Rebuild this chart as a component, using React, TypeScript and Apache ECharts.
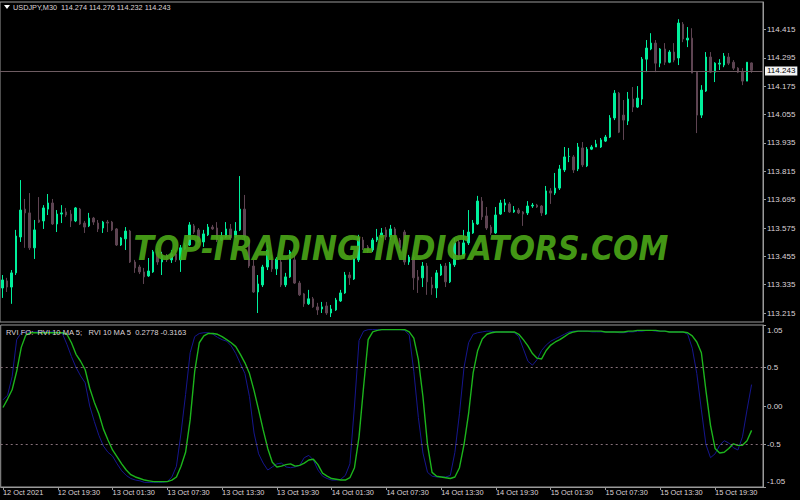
import React, { useEffect, useRef } from 'react';
import * as echarts from 'echarts';

const symbolName = 'USDJPY,M30';

const opens = [
  113.321, 113.351, 113.325, 113.385, 113.537, 113.655, 113.639, 113.491, 113.609, 113.605,
  113.655, 113.681, 113.592, 113.634, 113.643, 113.634, 113.605, 113.655, 113.596, 113.584,
  113.617, 113.596, 113.575, 113.600, 113.600, 113.571, 113.503, 113.529, 113.562, 113.431,
  113.410, 113.389, 113.372, 113.389, 113.474, 113.431, 113.457, 113.440, 113.465, 113.440,
  113.486, 113.503, 113.584, 113.567, 113.516, 113.546, 113.579, 113.575, 113.524, 113.537,
  113.571, 113.537, 113.567, 113.655, 113.524, 113.414, 113.304, 113.334, 113.410, 113.440,
  113.402, 113.431, 113.334, 113.368, 113.440, 113.342, 113.296, 113.254, 113.275, 113.241,
  113.232, 113.245, 113.215, 113.228, 113.266, 113.300, 113.376, 113.359, 113.440, 113.524,
  113.495, 113.482, 113.524, 113.537, 113.567, 113.537, 113.571, 113.524, 113.558, 113.431,
  113.452, 113.368, 113.364, 113.414, 113.334, 113.321, 113.376, 113.414, 113.347, 113.419,
  113.516, 113.457, 113.512, 113.554, 113.592, 113.689, 113.626, 113.579, 113.554, 113.634,
  113.672, 113.677, 113.643, 113.651, 113.643, 113.639, 113.668, 113.672, 113.668, 113.634,
  113.732, 113.723, 113.744, 113.821, 113.878, 113.876, 113.825, 113.914, 113.838, 113.909,
  113.918, 113.918, 113.943, 113.960, 114.041, 114.146, 114.053, 114.028, 114.121, 114.087,
  114.121, 114.290, 114.333, 114.358, 114.273, 114.333, 114.277, 114.320, 114.295, 114.438,
  114.371, 114.379, 114.235, 114.053, 114.155, 114.299, 114.235, 114.269, 114.265, 114.299,
  114.277, 114.252, 114.235, 114.197, 114.274,
];

const closes = [
  113.355, 113.325, 113.385, 113.541, 113.651, 113.639, 113.491, 113.567, 113.600, 113.660,
  113.681, 113.592, 113.634, 113.639, 113.630, 113.605, 113.660, 113.592, 113.579, 113.617,
  113.600, 113.571, 113.600, 113.596, 113.567, 113.503, 113.533, 113.562, 113.431, 113.406,
  113.389, 113.368, 113.393, 113.474, 113.431, 113.457, 113.440, 113.465, 113.440, 113.491,
  113.503, 113.588, 113.558, 113.516, 113.550, 113.579, 113.571, 113.524, 113.537, 113.571,
  113.533, 113.562, 113.655, 113.537, 113.414, 113.304, 113.338, 113.410, 113.482, 113.402,
  113.444, 113.334, 113.368, 113.474, 113.342, 113.292, 113.254, 113.275, 113.241, 113.228,
  113.241, 113.215, 113.232, 113.270, 113.300, 113.376, 113.364, 113.444, 113.533, 113.491,
  113.478, 113.524, 113.537, 113.554, 113.537, 113.571, 113.524, 113.491, 113.431, 113.452,
  113.364, 113.355, 113.414, 113.347, 113.321, 113.385, 113.414, 113.347, 113.423, 113.512,
  113.452, 113.512, 113.558, 113.596, 113.689, 113.622, 113.575, 113.554, 113.630, 113.681,
  113.681, 113.643, 113.651, 113.639, 113.634, 113.668, 113.672, 113.664, 113.639, 113.732,
  113.723, 113.744, 113.825, 113.876, 113.878, 113.821, 113.918, 113.842, 113.909, 113.918,
  113.931, 113.948, 113.960, 114.041, 114.146, 113.981, 114.032, 114.121, 114.087, 114.125,
  114.290, 114.337, 114.358, 114.273, 114.333, 114.277, 114.320, 114.286, 114.443, 114.375,
  114.379, 114.231, 114.053, 114.159, 114.299, 114.235, 114.273, 114.273, 114.303, 114.273,
  114.252, 114.235, 114.197, 114.277, 114.243,
];

const lows = [
  113.279, 113.304, 113.254, 113.376, 113.516, 113.491, 113.482, 113.444, 113.596, 113.571,
  113.630, 113.588, 113.558, 113.596, 113.622, 113.579, 113.600, 113.588, 113.554, 113.579,
  113.588, 113.558, 113.554, 113.558, 113.562, 113.499, 113.499, 113.482, 113.427, 113.385,
  113.380, 113.338, 113.368, 113.385, 113.419, 113.376, 113.431, 113.427, 113.431, 113.389,
  113.482, 113.499, 113.550, 113.512, 113.495, 113.541, 113.567, 113.516, 113.520, 113.533,
  113.524, 113.533, 113.562, 113.524, 113.406, 113.300, 113.215, 113.325, 113.397, 113.389,
  113.376, 113.325, 113.325, 113.364, 113.338, 113.287, 113.241, 113.249, 113.237, 113.207,
  113.215, 113.207, 113.198, 113.224, 113.262, 113.296, 113.334, 113.355, 113.431, 113.482,
  113.469, 113.474, 113.516, 113.533, 113.524, 113.524, 113.516, 113.469, 113.419, 113.419,
  113.313, 113.300, 113.325, 113.292, 113.292, 113.279, 113.372, 113.325, 113.342, 113.410,
  113.440, 113.448, 113.503, 113.550, 113.588, 113.609, 113.567, 113.546, 113.550, 113.630,
  113.643, 113.639, 113.639, 113.634, 113.584, 113.630, 113.660, 113.660, 113.626, 113.630,
  113.677, 113.715, 113.736, 113.812, 113.854, 113.808, 113.816, 113.833, 113.833, 113.905,
  113.918, 113.914, 113.939, 113.956, 114.032, 113.977, 113.948, 114.011, 114.066, 114.083,
  114.096, 114.235, 114.328, 114.235, 114.256, 114.265, 114.273, 114.277, 114.265, 114.362,
  114.341, 114.231, 113.977, 114.041, 114.151, 114.231, 114.193, 114.244, 114.256, 114.265,
  114.244, 114.231, 114.180, 114.197, 114.232,
];

const highs = [
  113.376, 113.364, 113.397, 113.567, 113.778, 113.698, 113.723, 113.609, 113.706, 113.672,
  113.719, 113.698, 113.651, 113.672, 113.660, 113.651, 113.664, 113.660, 113.605, 113.639,
  113.622, 113.609, 113.605, 113.609, 113.605, 113.575, 113.537, 113.579, 113.567, 113.440,
  113.419, 113.406, 113.448, 113.482, 113.491, 113.474, 113.465, 113.482, 113.482, 113.503,
  113.512, 113.600, 113.592, 113.575, 113.567, 113.592, 113.588, 113.600, 113.558, 113.600,
  113.592, 113.600, 113.795, 113.715, 113.533, 113.440, 113.376, 113.419, 113.503, 113.461,
  113.452, 113.448, 113.385, 113.482, 113.461, 113.351, 113.300, 113.313, 113.283, 113.258,
  113.262, 113.262, 113.249, 113.279, 113.313, 113.389, 113.389, 113.452, 113.546, 113.537,
  113.503, 113.533, 113.571, 113.575, 113.579, 113.588, 113.579, 113.533, 113.567, 113.461,
  113.482, 113.397, 113.431, 113.427, 113.368, 113.397, 113.423, 113.427, 113.431, 113.533,
  113.524, 113.567, 113.651, 113.609, 113.711, 113.706, 113.664, 113.588, 113.664, 113.694,
  113.698, 113.685, 113.668, 113.660, 113.647, 113.689, 113.681, 113.677, 113.672, 113.753,
  113.744, 113.808, 113.842, 113.918, 113.914, 113.884, 113.935, 113.939, 113.918, 113.926,
  113.948, 113.956, 113.969, 114.053, 114.159, 114.151, 114.117, 114.151, 114.172, 114.176,
  114.299, 114.371, 114.400, 114.371, 114.337, 114.358, 114.328, 114.358, 114.459, 114.447,
  114.426, 114.421, 114.239, 114.180, 114.320, 114.320, 114.277, 114.290, 114.316, 114.316,
  114.286, 114.256, 114.252, 114.277, 114.276,
];

// RVI main line (blue) and its signal MA (green)
const rviMain = [
  0.08, 0.14, 0.38, 0.86, 0.95, 0.96, 0.96, 0.96, 0.96, 0.96,
  0.96, 0.96, 0.95, 0.94, 0.80, 0.64, 0.50, 0.39, 0.30, 0.00,
  -0.20, -0.38, -0.52, -0.60, -0.65, -0.75, -0.84, -0.90, -0.94, -0.96,
  -0.97, -0.99, -0.99, -0.99, -0.99, -0.99, -0.98, -0.92, -0.78, -0.35,
  0.15, 0.69, 0.90, 0.94, 0.95, 0.95, 0.93, 0.89, 0.86, 0.84,
  0.78, 0.68, 0.55, 0.42, 0.12, -0.35, -0.62, -0.74, -0.83, -0.79,
  -0.75, -0.74, -0.79, -0.80, -0.79, -0.77, -0.67, -0.64, -0.70, -0.83,
  -0.91, -0.94, -0.96, -0.96, -0.95, -0.90, -0.75, 0.00, 0.85, 0.97,
  0.99, 0.99, 0.99, 0.99, 0.99, 0.99, 0.99, 0.99, 0.98, 0.92,
  0.45, -0.15, -0.61, -0.86, -0.91, -0.92, -0.92, -0.92, -0.90, -0.60,
  -0.10, 0.50, 0.82, 0.93, 0.95, 0.96, 0.97, 0.97, 0.96, 0.96,
  0.96, 0.96, 0.95, 0.90, 0.74, 0.58, 0.53, 0.60, 0.72, 0.79,
  0.84, 0.87, 0.90, 0.93, 0.96, 0.97, 0.97, 0.97, 0.97, 0.96,
  0.96, 0.96, 0.96, 0.96, 0.96, 0.95, 0.95, 0.96, 0.96, 0.97,
  0.97, 0.98, 0.98, 0.97, 0.97, 0.97, 0.96, 0.96, 0.96, 0.96,
  0.93, 0.75, 0.42, -0.05, -0.50, -0.67, -0.62, -0.51, -0.45, -0.48,
  -0.54, -0.57, -0.40, -0.05, 0.2778,
];

const rviSignal = [
  -0.02, 0.09, 0.21, 0.45, 0.76, 0.92, 0.95, 0.95, 0.95, 0.95,
  0.95, 0.95, 0.95, 0.95, 0.93, 0.82, 0.67, 0.58, 0.47, 0.23,
  0.05, -0.10, -0.30, -0.44, -0.57, -0.66, -0.75, -0.83, -0.89, -0.92,
  -0.94, -0.96, -0.97, -0.98, -0.98, -0.98, -0.98, -0.96, -0.92, -0.78,
  -0.60, -0.18, 0.45, 0.82, 0.91, 0.94, 0.94, 0.93, 0.90, 0.86,
  0.82, 0.77, 0.67, 0.56, 0.42, 0.20, -0.05, -0.31, -0.55, -0.73,
  -0.79, -0.78, -0.76, -0.75, -0.78, -0.77, -0.74, -0.70, -0.69, -0.76,
  -0.87, -0.91, -0.94, -0.95, -0.96, -0.96, -0.93, -0.80, -0.40, 0.25,
  0.86, 0.96, 0.98, 0.99, 0.99, 0.99, 0.99, 0.99, 0.99, 0.96,
  0.88, 0.60, 0.12, -0.50, -0.86, -0.91, -0.92, -0.93, -0.94, -0.92,
  -0.80, -0.50, -0.10, 0.43, 0.72, 0.87, 0.93, 0.95, 0.96, 0.96,
  0.96, 0.96, 0.96, 0.93, 0.86, 0.78, 0.68, 0.62, 0.61, 0.72,
  0.79, 0.83, 0.86, 0.90, 0.94, 0.96, 0.97, 0.97, 0.97, 0.97,
  0.97, 0.97, 0.96, 0.96, 0.96, 0.96, 0.96, 0.97, 0.97, 0.98,
  0.98, 0.98, 0.98, 0.98, 0.97, 0.97, 0.96, 0.96, 0.96, 0.96,
  0.95, 0.91, 0.83, 0.69, 0.20, -0.25, -0.55, -0.61, -0.60, -0.55,
  -0.49, -0.51, -0.51, -0.45, -0.3163,
];

const priceTicks = [113.215, 113.335, 113.455, 113.575, 113.695, 113.815, 113.935, 114.055, 114.175, 114.295, 114.415];
const priceMin = 113.177;
const priceMax = 114.532;
const rviTicks = [1.05, 0.5, 0, -0.5, -1.05];
const rviTickLabels = ['1.05', '0.5', '0.00', '-0.5', '-1.05'];
const rviLevels = [0.5, -0.5];
const indicatorTitle = 'RVI FO:  RVI 10 MA 5;   RVI 10 MA 5';
const watermark = 'TOP-TRADING-INDICATORS.COM';

// time axis: M30 bars starting 12 Oct 2021 13:30
const firstDay = 12;
const firstMinute = 13 * 60 + 30;
const barMinutes = 30;
const labelEvery = 12;
const emptyBarsRight = 2;

const pad2 = (n: number) => (n < 10 ? '0' + n : '' + n);
function barLabel(i: number): string {
  const m = firstMinute + i * barMinutes;
  const day = firstDay + Math.floor(m / 1440);
  const mm = m % 1440;
  if (i === 0) return `${day} Oct 2021`;
  return `${day} Oct ${pad2(Math.floor(mm / 60))}:${pad2(mm % 60)}`;
}

const BULL = '#00f09c';
const BEAR = '#5e4452';
const FRAME = '#9a9a9a';
const TXT = '#ddd3d7';
const FONT = '"Liberation Sans", Arial, sans-serif';

export default function App() {
  const ref = useRef<HTMLDivElement>(null);
  useEffect(() => {
    if (!ref.current) return;
    const chart = echarts.init(ref.current, null, { renderer: 'svg' });
    const n = opens.length;
    const cats: string[] = [];
    for (let i = 0; i < n + emptyBarsRight; i++) cats.push(i < n ? barLabel(i) : '');
    const showIdx = (idx: number) => idx < n && idx % labelEvery === 0;
    const last = n - 1;
    const header = `${symbolName}  ${opens[last].toFixed(3)} ${highs[last].toFixed(3)} ${lows[last].toFixed(3)} ${closes[last].toFixed(3)}`;
    const rviText = `${indicatorTitle}  ${rviMain[last].toFixed(4)} ${rviSignal[last].toFixed(4)}`;

    const option: any = {
      animation: false,
      backgroundColor: '#000',
      textStyle: { fontFamily: FONT },
      grid: [
        { left: 0, right: 37, top: 2, height: 320, show: true, borderColor: FRAME, borderWidth: 1 },
        { left: 0, right: 37, top: 325, height: 162, show: true, borderColor: FRAME, borderWidth: 1 },
      ],
      xAxis: [
        { type: 'category', gridIndex: 0, data: cats, show: false, boundaryGap: true },
        {
          type: 'category', gridIndex: 1, data: cats, boundaryGap: true, position: 'bottom',
          axisLine: { show: true, onZero: false, lineStyle: { color: FRAME, width: 1 } },
          axisTick: { show: true, alignWithLabel: true, interval: (i: number) => showIdx(i), length: 3, lineStyle: { color: FRAME } },
          axisLabel: { interval: (i: number) => showIdx(i), align: 'left', margin: 2, fontSize: 7.4, color: TXT, fontFamily: FONT },
          splitLine: { show: false },
        },
      ],
      yAxis: [
        {
          type: 'value', gridIndex: 0, position: 'right', min: priceMin, max: priceMax, scale: true,
          splitLine: { show: false },
          axisLine: { show: true, lineStyle: { color: FRAME } },
          axisTick: { show: true, length: 3, customValues: priceTicks, lineStyle: { color: FRAME } },
          axisLabel: { customValues: priceTicks, formatter: (v: number) => v.toFixed(3), margin: 4, fontSize: 8, color: TXT, fontFamily: FONT },
        },
        {
          type: 'value', gridIndex: 1, position: 'right', min: -1.05, max: 1.05,
          splitLine: { show: false },
          axisLine: { show: true, lineStyle: { color: FRAME } },
          axisTick: { show: true, length: 3, customValues: rviTicks, lineStyle: { color: FRAME } },
          axisLabel: {
            customValues: rviTicks, margin: 4, fontSize: 8, color: TXT, fontFamily: FONT,
            showMinLabel: true, showMaxLabel: true,
            formatter: (v: number) => {
              const k = rviTicks.findIndex((t) => Math.abs(t - v) < 1e-9);
              const s = k >= 0 ? rviTickLabels[k] : String(v);
              if (k === 0) return `{t|${s}}`;
              if (k === rviTicks.length - 1) return `{b|${s}}`;
              return s;
            },
            rich: {
              t: { padding: [11, 0, 0, 0], fontSize: 8, color: TXT, fontFamily: FONT },
              b: { padding: [0, 0, 11, 0], fontSize: 8, color: TXT, fontFamily: FONT },
            },
          },
        },
      ],
      series: [
        {
          type: 'candlestick', xAxisIndex: 0, yAxisIndex: 0,
          data: opens.map((o, i) => [o, closes[i], lows[i], highs[i]]),
          barWidth: 2,
          itemStyle: { color: BULL, color0: BEAR, borderColor: BULL, borderColor0: BEAR, borderWidth: 1 },
          emphasis: { disabled: true },
          markLine: {
            silent: true, symbol: ['none', 'none'], animation: false,
            lineStyle: { color: '#6e5c62', width: 1, type: 'solid' },
            label: {
              show: true, position: 'end', distance: 2, formatter: closes[last].toFixed(3),
              color: '#000', backgroundColor: '#f4f4f4', padding: [1, 2, 0, 2], fontSize: 8, fontFamily: FONT,
            },
            data: [{ yAxis: closes[last] }],
          },
        },
        {
          type: 'line', xAxisIndex: 1, yAxisIndex: 1, data: rviMain, symbol: 'none',
          lineStyle: { color: '#16168e', width: 1 }, emphasis: { disabled: true },
          markLine: {
            silent: true, symbol: ['none', 'none'],
            lineStyle: { color: '#87707a', width: 1, type: [2, 3] },
            label: { show: false },
            data: rviLevels.map((v) => ({ yAxis: v })),
          },
        },
        {
          type: 'line', xAxisIndex: 1, yAxisIndex: 1, data: rviSignal, symbol: 'none',
          lineStyle: { color: '#1cb41c', width: 1.4 }, emphasis: { disabled: true },
        },
      ],
      graphic: [
        { type: 'polygon', shape: { points: [[4, 5], [10, 5], [7, 9]] }, style: { fill: '#ffffff' }, z: 100 },
        { type: 'text', x: 13, y: 7.5, style: { text: header, fill: TXT, font: `7.3px ${FONT}`, textVerticalAlign: 'middle' }, z: 100 },
        { type: 'text', x: 6, y: 332, style: { text: rviText, fill: TXT, font: `7.6px ${FONT}`, textVerticalAlign: 'middle' }, z: 100 },
        {
          type: 'text', x: 401, y: 248, scaleX: 0.91, z: 100,
          style: {
            text: watermark, fill: 'rgba(74,166,24,0.93)',
            font: `italic bold 33px "DejaVu Sans", sans-serif`, textAlign: 'center', textVerticalAlign: 'middle',
          },
        },
      ],
    };
    chart.setOption(option);
    return () => chart.dispose();
  }, []);
  return <div ref={ref} style={{ position: 'fixed', left: 0, top: 0, width: 800, height: 500, background: '#000' }} />;
}
